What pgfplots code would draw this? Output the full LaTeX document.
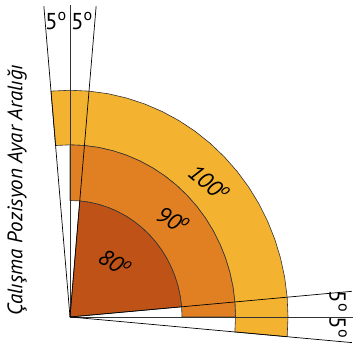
\documentclass[border=0pt]{standalone}
\usepackage{fontspec}
\setmainfont{PT Sans}
\usepackage{pgfplots}
\pgfplotsset{compat=1.18}
\definecolor{cDark}{HTML}{BF5317}
\definecolor{cMid}{HTML}{E18022}
\definecolor{cYel}{HTML}{F3B230}
\definecolor{cLine}{HTML}{333333}
\begin{document}
\begin{tikzpicture}
\begin{axis}[
  scale only axis, width=364pt, height=344pt,
  xmin=-70, xmax=294, ymin=-26, ymax=304.8,
  ticks=none, axis line style={draw=none},
  clip=false,
]
% outer band 100 deg: -5..95, r 165.5..218
\addplot[data cs=polar, fill=cYel, draw=cLine, line width=0.6pt] coordinates {
(-5,218)(0,218)(5,218)(10,218)(15,218)(20,218)(25,218)(30,218)(35,218)(40,218)(45,218)
(50,218)(55,218)(60,218)(65,218)(70,218)(75,218)(80,218)(85,218)(90,218)(95,218)
(95,165.5)(90,165.5)(85,165.5)(80,165.5)(75,165.5)(70,165.5)(65,165.5)(60,165.5)(55,165.5)(50,165.5)
(45,165.5)(40,165.5)(35,165.5)(30,165.5)(25,165.5)(20,165.5)(15,165.5)(10,165.5)(5,165.5)(0,165.5)(-5,165.5)
} -- cycle;
% middle band 90 deg: 0..90, r 112..165.5
\addplot[data cs=polar, fill=cMid, draw=cLine, line width=0.6pt] coordinates {
(0,165.5)(5,165.5)(10,165.5)(15,165.5)(20,165.5)(25,165.5)(30,165.5)(35,165.5)(40,165.5)(45,165.5)
(50,165.5)(55,165.5)(60,165.5)(65,165.5)(70,165.5)(75,165.5)(80,165.5)(85,165.5)(90,165.5)
(90,112)(85,112)(80,112)(75,112)(70,112)(65,112)(60,112)(55,112)(50,112)(45,112)
(40,112)(35,112)(30,112)(25,112)(20,112)(15,112)(10,112)(5,112)(0,112)
} -- cycle;
% inner sector 80 deg: 5..85, r 0..112
\addplot[data cs=polar, fill=cDark, draw=cLine, line width=0.6pt] coordinates {
(0,0)(5,112)(10,112)(15,112)(20,112)(25,112)(30,112)(35,112)(40,112)(45,112)
(50,112)(55,112)(60,112)(65,112)(70,112)(75,112)(80,112)(85,112)
} -- cycle;
% rays
\addplot[data cs=polar, draw=black, line width=0.7pt] coordinates {(0,0)(95,300)};
\addplot[data cs=polar, draw=cLine, line width=0.9pt] coordinates {(0,0)(90,300)};
\addplot[data cs=polar, draw=black, line width=0.7pt] coordinates {(0,0)(85,300)};
\addplot[data cs=polar, draw=black, line width=0.7pt] coordinates {(0,0)(5,283)};
\addplot[data cs=polar, draw=cLine, line width=0.9pt] coordinates {(0,0)(0,283)};
\addplot[data cs=polar, draw=black, line width=0.7pt] coordinates {(0,0)(-5,283)};
% labels
\node[font=\fontsize{23}{23}\selectfont, inner sep=0pt] at (axis cs:-14,285) {5\textsuperscript{o}};
\node[font=\fontsize{23}{23}\selectfont, inner sep=0pt] at (axis cs:12,285) {5\textsuperscript{o}};
\node[font=\fontsize{23}{23}\selectfont, rotate=-90, inner sep=0pt] at (axis cs:268,15) {5\textsuperscript{o}};
\node[font=\fontsize{23}{23}\selectfont, rotate=-90, inner sep=0pt] at (axis cs:268,-10) {5\textsuperscript{o}};
\node[font=\itshape\fontsize{23}{23}\selectfont, rotate=-32, inner sep=0pt] at (axis cs:45,52) {80\textsuperscript{o}};
\node[font=\itshape\fontsize{23}{23}\selectfont, rotate=-30, inner sep=0pt] at (axis cs:103,93) {90\textsuperscript{o}};
\node[font=\itshape\fontsize{23}{23}\selectfont, rotate=-40, inner sep=0pt] at (axis cs:139,129) {100\textsuperscript{o}};
\node[font=\itshape\fontsize{21}{21}\selectfont, rotate=90, inner sep=0pt] at (axis cs:-53,122) {Çalışma Pozisyon Ayar Aralığı};
\end{axis}
\end{tikzpicture}
\end{document}
